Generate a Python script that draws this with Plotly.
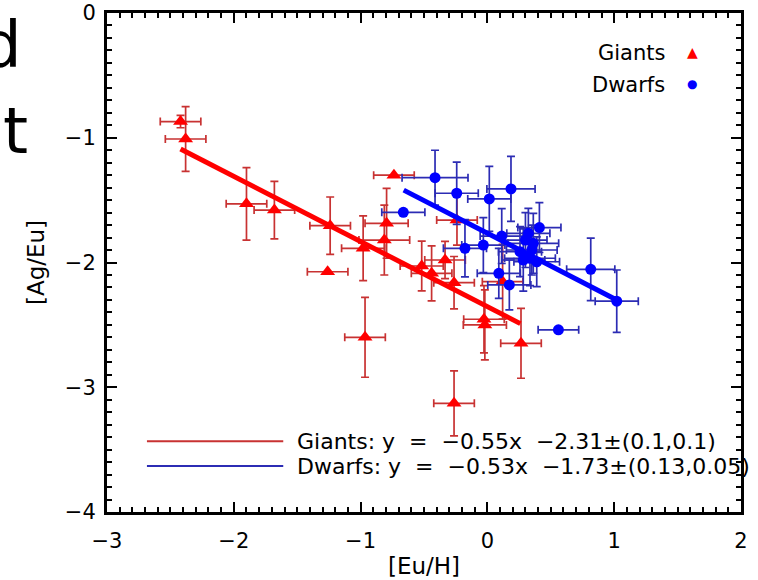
import plotly.graph_objects as go

# ---------------- data ----------------
giants_x = [-2.42, -2.38, -1.90, -1.68, -1.24, -1.26, -0.98, -0.965, -0.737, -0.795, -0.813,
            -0.518, -0.44, -0.334, -0.263, -0.027, -0.02, 0.265, -0.263, -0.24, 0.12]
giants_y = [-0.87, -1.01, -1.53, -1.58, -1.705, -2.074, -1.886, -2.60, -1.30, -1.686, -1.82,
            -2.028, -2.087, -1.98, -2.162, -2.455, -2.50, -2.648, -3.129, -1.66, -2.154]
giants_xerr = [0.16, 0.16, 0.16, 0.16, 0.16, 0.16, 0.17, 0.16, 0.16, 0.17, 0.20,
               0.17, 0.16, 0.16, 0.16, 0.16, 0.17, 0.16, 0.16, 0.16, 0.16]
giants_yerr = [0.05, 0.26, 0.29, 0.23, 0.23, 0.0, 0.26, 0.32, 0.0, 0.28, 0.28,
               0.20, 0.22, 0.15, 0.21, 0.27, 0.28, 0.28, 0.26, 0.20, 0.30]

dwarfs_x = [-0.413, -0.242, 0.015, 0.186, -0.663, -0.177, -0.032, 0.113, 0.09, 0.173, 0.41,
            0.815, 1.02, 0.56, 0.323, 0.362, 0.257, 0.336, 0.283, 0.389, 0.30, 0.35]
dwarfs_y = [-1.32, -1.445, -1.49, -1.41, -1.598, -1.886, -1.86, -1.788, -2.087, -2.18, -1.72,
            -2.055, -2.31, -2.54, -1.766, -1.846, -1.913, -1.966, -1.98, -1.994, -1.82, -1.90]
dwarfs_xerr = [0.26, 0.17, 0.17, 0.19, 0.17, 0.17, 0.17, 0.17, 0.17, 0.17, 0.17,
               0.19, 0.17, 0.16, 0.17, 0.20, 0.17, 0.20, 0.17, 0.18, 0.17, 0.20]
dwarfs_yerr = [0.22, 0.25, 0.26, 0.26, 0.0, 0.23, 0.22, 0.22, 0.20, 0.20, 0.20,
               0.25, 0.25, 0.0, 0.20, 0.24, 0.20, 0.22, 0.25, 0.20, 0.22, 0.20]

giants_fit_x = [-2.42, 0.26]
giants_fit_y = [-1.09, -2.49]
dwarfs_fit_x = [-0.66, 1.02]
dwarfs_fit_y = [-1.42, -2.30]

NB = "\u00a0"
giants_label = f"Giants: y {NB}={NB} \u22120.55x {NB}\u22122.31\u00b1(0.1,0.1)"
dwarfs_label = f"Dwarfs: y {NB}={NB} \u22120.53x {NB}\u22121.73\u00b1(0.13,0.05)"

# ---------------- style ----------------
RED = "#ff0000"
RED_ERR = "#c83232"
BLUE = "#0000ff"
BLUE_ERR = "#2c2cb4"
FONT = "DejaVu Sans"

fig = go.Figure()

fig.add_trace(go.Scatter(
    x=giants_x, y=giants_y, mode="markers",
    marker=dict(symbol="triangle-up", size=13, color=RED),
    error_x=dict(type="data", array=giants_xerr, color=RED_ERR, thickness=1.7, width=4),
    error_y=dict(type="data", array=giants_yerr, color=RED_ERR, thickness=1.7, width=4),
    showlegend=False))

fig.add_trace(go.Scatter(
    x=dwarfs_x, y=dwarfs_y, mode="markers",
    marker=dict(symbol="circle", size=11, color=BLUE),
    error_x=dict(type="data", array=dwarfs_xerr, color=BLUE_ERR, thickness=1.7, width=4),
    error_y=dict(type="data", array=dwarfs_yerr, color=BLUE_ERR, thickness=1.7, width=4),
    showlegend=False))

fig.add_trace(go.Scatter(x=giants_fit_x, y=giants_fit_y, mode="lines",
                         line=dict(color=RED, width=5), showlegend=False))
fig.add_trace(go.Scatter(x=dwarfs_fit_x, y=dwarfs_fit_y, mode="lines",
                         line=dict(color=BLUE, width=5), showlegend=False))

axis_common = dict(
    showgrid=False, zeroline=False, showline=True, linecolor="black", linewidth=3,
    mirror="allticks", ticks="inside", ticklen=10, tickwidth=2, tickcolor="black",
    tickfont=dict(family=FONT, size=21, color="black"),
    minor=dict(ticks="inside", ticklen=5, tickwidth=2, tickcolor="black", dtick=0.1),
    automargin=False,
)

fig.update_xaxes(range=[-3, 2], dtick=1, tick0=-3, ticklabelstandoff=8,
                 title=dict(text="[Eu/H]", font=dict(family=FONT, size=23, color="black"), standoff=6),
                 **axis_common)
fig.update_yaxes(range=[-4, 0], dtick=1, tick0=-4, ticklabelstandoff=4,
                 title=dict(text="[Ag/Eu]", font=dict(family=FONT, size=23, color="black"), standoff=14),
                 **axis_common)

annotations = [
    # top-right legend
    dict(x=0.883, y=0.92, xref="paper", yref="paper", text="Giants", showarrow=False,
         xanchor="right", yanchor="middle", font=dict(family=FONT, size=21, color="black")),
    dict(x=0.923, y=0.922, xref="paper", yref="paper", text="\u25b2", showarrow=False,
         xanchor="center", yanchor="middle", font=dict(family=FONT, size=14, color=RED)),
    dict(x=0.883, y=0.855, xref="paper", yref="paper", text="Dwarfs", showarrow=False,
         xanchor="right", yanchor="middle", font=dict(family=FONT, size=21, color="black")),
    dict(x=0.923, y=0.857, xref="paper", yref="paper", text="\u25cf", showarrow=False,
         xanchor="center", yanchor="middle", font=dict(family=FONT, size=12, color=BLUE)),
    # fit legend texts
    dict(x=0.297, y=0.142, xref="paper", yref="paper", text=giants_label, showarrow=False,
         xanchor="left", yanchor="middle", font=dict(family=FONT, size=22, color="black")),
    dict(x=0.297, y=0.092, xref="paper", yref="paper", text=dwarfs_label, showarrow=False,
         xanchor="left", yanchor="middle", font=dict(family=FONT, size=22, color="black")),
    # cropped large slide text at the left edge
    dict(x=-0.131, y=0.935, xref="paper", yref="paper", text="d", showarrow=False,
         xanchor="right", yanchor="middle", font=dict(family=FONT, size=64, color="black")),
    dict(x=-0.122, y=0.763, xref="paper", yref="paper", text="t", showarrow=False,
         xanchor="right", yanchor="middle", font=dict(family=FONT, size=64, color="black")),
]

shapes = [
    dict(type="line", xref="paper", yref="paper", x0=0.063, x1=0.278, y0=0.142, y1=0.142,
         line=dict(color=RED_ERR, width=2)),
    dict(type="line", xref="paper", yref="paper", x0=0.063, x1=0.278, y0=0.092, y1=0.092,
         line=dict(color=BLUE_ERR, width=2)),
]

fig.update_layout(
    width=758, height=580,
    margin=dict(l=107, r=17, t=13, b=68, autoexpand=False),
    plot_bgcolor="white", paper_bgcolor="white",
    font=dict(family=FONT, color="black"),
    annotations=annotations, shapes=shapes,
)

fig.write_html("out.html")
